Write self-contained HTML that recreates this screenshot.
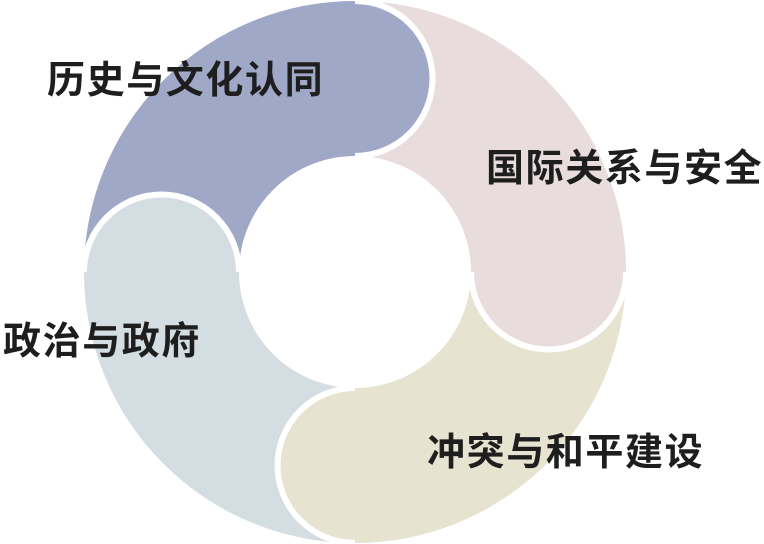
<!DOCTYPE html>
<html><head><meta charset="utf-8"><style>
html,body{margin:0;padding:0;background:#fff;}
body{width:764px;height:544px;position:relative;overflow:hidden;}
svg{position:absolute;left:0;top:0;}
.t{position:absolute;font-family:"Liberation Sans","Noto Sans CJK SC",sans-serif;font-weight:bold;font-size:38px;letter-spacing:1.6px;color:#1e1e1e;line-height:1;white-space:nowrap;}
</style></head><body>
<svg width="764" height="544" viewBox="0 0 764 544">
<g fill="none" stroke-width="155">
<path d="M161.5 272 A193.5 193.5 0 0 1 355 78.5" stroke="#a0a8c8"/>
<path d="M355 78.5 A193.5 193.5 0 0 1 548.5 272" stroke="#e9dcdd"/>
<path d="M548.5 272 A193.5 193.5 0 0 1 355 465.5" stroke="#e6e3d1"/>
<path d="M355 465.5 A193.5 193.5 0 0 1 161.5 272" stroke="#d3dde2"/>
</g>
<path d="M355 1 A77.5 77.5 0 0 1 355 156 Z" fill="#a0a8c8"/>
<path d="M355 1 A77.5 77.5 0 0 1 355 156" fill="none" stroke="#fff" stroke-width="6"/>
<path d="M626 272 A77.5 77.5 0 0 1 471 272 Z" fill="#e9dcdd"/>
<path d="M626 272 A77.5 77.5 0 0 1 471 272" fill="none" stroke="#fff" stroke-width="6"/>
<path d="M355 543 A77.5 77.5 0 0 1 355 388 Z" fill="#e6e3d1"/>
<path d="M355 543 A77.5 77.5 0 0 1 355 388" fill="none" stroke="#fff" stroke-width="6"/>
<path d="M84 272 A77.5 77.5 0 0 1 239 272 Z" fill="#d3dde2"/>
<path d="M84 272 A77.5 77.5 0 0 1 239 272" fill="none" stroke="#fff" stroke-width="6"/>
</svg>
<div class="t" style="left:47px;top:62px;">历史与文化认同</div>
<div class="t" style="left:486px;top:150px;">国际关系与安全</div>
<div class="t" style="left:3px;top:323px;">政治与政府</div>
<div class="t" style="left:427px;top:434px;">冲突与和平建设</div>
</body></html>
